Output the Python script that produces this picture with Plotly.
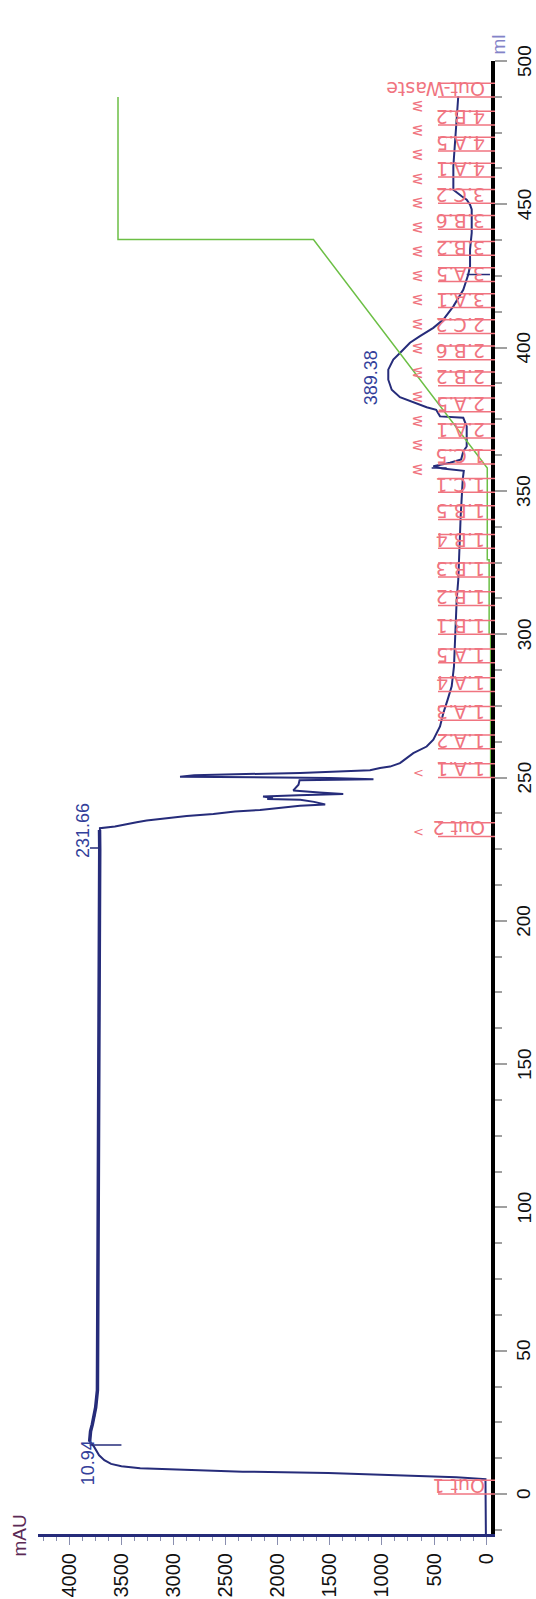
import plotly.graph_objects as go

# ---------------- data ----------------
# UV absorbance curve: volume (ml) and absorbance (mAU)
uv_ml = [-14.0, 5.2, 5.8, 6.4, 7.3, 7.8, 8.5, 9.0, 9.7, 10.5, 11.8, 13.5, 16.5, 18.3,
         21.9, 24.3, 26.7, 30.2, 36.2, 50, 100, 150, 200, 225, 231.66, 232.3, 232.9,
         233.7, 234.4, 235.0, 235.8, 236.6, 237.3, 238.1, 238.7, 239.5, 240.1, 240.6,
         241.5, 242.2, 242.5, 242.8, 243.4, 243.8, 244.2, 244.8, 245.5, 247.5, 249.0,
         249.4, 249.8, 250.3, 250.8, 251.6, 252.1, 252.5, 253.3, 253.8, 255.0, 258.5,
         260.8, 263.2, 267.8, 272.5, 277.0, 281.8, 288.8, 300.4, 312.0, 319.0, 329.5,
         341.0, 354.0, 357.0, 357.8, 358.6, 359.8, 361.0, 363.8, 365.5, 372.5, 375.5,
         376.0, 378.3, 379.2, 381.0, 382.7, 385.3, 388.8, 392.3, 395.8, 398.1, 401.7,
         404.0, 406.9, 409.8, 414.4, 420.2, 423.7, 425.5, 428.4, 434.2, 440.0, 448.2,
         449.9, 451.6, 452.8, 455.1, 463.3, 472.6, 480.7, 487.7]
uv_mau = [3, 7, 286, 876, 1515, 2335, 2941, 3318, 3498, 3597, 3662, 3712, 3761, 3803,
          3794, 3777, 3761, 3745, 3728, 3727, 3722, 3716, 3709, 3706, 3708, 3704, 3560,
          3464, 3352, 3256, 3080, 2872, 2617, 2409, 2169, 1946, 1786, 1544,
          1650, 1783, 2100, 2045, 2140, 1800, 1371, 1600, 1850, 1800, 1790,
          1081, 1500, 2936, 2800, 1783, 1304, 1114, 1018, 922, 827, 699,
          571, 507, 443, 411, 371, 331, 309, 299, 283, 268, 258,
          245, 225, 215, 420, 507, 347, 240, 220, 187, 187, 220,
          443, 480, 571, 699, 827, 906, 939, 939, 891, 827, 731,
          635, 507, 411, 315, 220, 187, 172, 155, 155, 139, 139,
          155, 187, 235, 315, 315, 299, 283, 268]

# Concentration of buffer B (%)
conc_ml = [250, 300, 300, 326, 326, 358, 437.7, 437.7, 487.4]
conc_pctB = [0.1, 0.1, 0.5, 0.5, 1.0, 1.0, 47.6, 100, 100]

# Peak labels
peak_ml = [10.94, 231.66, 389.38]
peak_mau = [3620, 3704, 939]
peak_text = ["10.94", "231.66", "389.38"]
peak_shift = [-21, -17, -17]

# Peak start / end marks
mark_ml = [17.1, 225.4, 358.0, 425.5]
mark_mau_a = [3803, 3800, 523, 187]
mark_mau_b = [3498, 3704, 379, -36]

# Fractions: start volume (ml) and label
frac_ml = [0, 229.4, 250, 260, 270, 280, 290, 300, 310, 320, 330, 340, 349.5,
           359.4, 368.5, 377.6, 386.7, 395.8, 404.9, 414.0, 423.1, 432.2, 441.3,
           450.4, 459.5, 468.6, 477.7, 487.4]
frac_text = ["Out 1", "Out 2", "1.A.1", "1.A.2", "1.A.3", "1.A.4", "1.A.5", "1.B.1",
             "1.B.2", "1.B.3", "1.B.4", "1.B.5", "1.C.1",
             "1.C.5", "2.A.1", "2.A.5", "2.B.2", "2.B.6", "2.C.2", "3.A.1", "3.A.5",
             "3.B.2", "3.B.6", "3.C.2", "4.A.1", "4.A.5", "4.B.2", "Out-Waste"]

# Event marks
event_ml = [229.4, 250]
multi_event_ml = [357.5, 366.0, 374.4, 382.9, 391.3, 399.8, 408.2, 416.7, 425.1,
                  433.6, 442.0, 450.5, 458.9, 467.4, 475.8, 484.3]

mau_ticks = list(range(0, 4001, 500))
ml_ticks = list(range(0, 501, 50))

# ---------------- styling ----------------
W, H = 536, 1599
ML, MR, MT, MB = 38, 45, 61, 65
PW = W - ML - MR
UV_COLOR = "#262c7a"
LABEL_BLUE = "#33409a"
PINK = "#f07480"
GREEN = "#6cbf45"
PCT_PX = 3.73  # px per % B

def px_to_paper_x(px):
    return (px - ML) / PW

fig = go.Figure()

fig.add_trace(go.Scatter(x=uv_mau, y=uv_ml, mode="lines",
                         line=dict(color=UV_COLOR, width=2), hoverinfo="skip"))
# noisy plateau drawn thicker
i0, i1 = uv_ml.index(18.3), uv_ml.index(231.66)
fig.add_trace(go.Scatter(x=uv_mau[i0:i1 + 1], y=uv_ml[i0:i1 + 1], mode="lines",
                         line=dict(color=UV_COLOR, width=3.5), hoverinfo="skip"))

mx, my = [], []
for m, a, b in zip(mark_ml, mark_mau_a, mark_mau_b):
    mx += [a, b, None]
    my += [m, m, None]
fig.add_trace(go.Scatter(x=mx, y=my, mode="lines",
                         line=dict(color=UV_COLOR, width=1.5), hoverinfo="skip"))

fig.add_trace(go.Scatter(x=conc_pctB, y=conc_ml, mode="lines", xaxis="x2",
                         line=dict(color=GREEN, width=1.5), hoverinfo="skip"))

shapes = []
annotations = []
x0p, x1p = px_to_paper_x(438), px_to_paper_x(495)
UNDER = 4.8  # ml height of a fraction label box
for f, t in zip(frac_ml, frac_text):
    shapes.append(dict(type="line", xref="paper", yref="y", x0=x0p, x1=x1p, y0=f, y1=f,
                       line=dict(color=PINK, width=1.5)))
    shapes.append(dict(type="line", xref="paper", yref="y", x0=x0p, x1=x1p,
                       y0=f + UNDER, y1=f + UNDER, line=dict(color=PINK, width=1.5)))
    annotations.append(dict(x=px_to_paper_x(487), xref="paper", y=f, yref="y",
                            text=t, showarrow=False, textangle=180,
                            xanchor="right", yanchor="bottom", yshift=-5,
                            font=dict(family="DejaVu Sans", size=19, color=PINK)))

for e in event_ml:
    annotations.append(dict(x=px_to_paper_x(418), xref="paper", y=e, yref="y",
                            text="<", showarrow=False, xanchor="center",
                            yanchor="bottom", yshift=-4,
                            font=dict(family="DejaVu Sans", size=13, color=PINK)))
for e in multi_event_ml:
    annotations.append(dict(x=px_to_paper_x(418), xref="paper", y=e, yref="y",
                            text="w", showarrow=False, textangle=90,
                            xanchor="center", yanchor="middle",
                            font=dict(family="DejaVu Sans", size=15, color=PINK)))

for pm, pa, pt, sh in zip(peak_ml, peak_mau, peak_text, peak_shift):
    annotations.append(dict(x=pa, y=pm, xref="x", yref="y", text=pt, showarrow=False,
                            textangle=-90, xanchor="center", yanchor="middle",
                            xshift=sh,
                            font=dict(family="Liberation Sans", size=18,
                                      color=LABEL_BLUE)))

# volume tick labels (drawn as rotated text right of the axis)
for v in ml_ticks:
    annotations.append(dict(x=px_to_paper_x(524), xref="paper", y=v, yref="y",
                            text=str(v), showarrow=False, textangle=-90,
                            xanchor="center", yanchor="middle",
                            font=dict(family="Liberation Sans", size=19, color="#111")))

annotations.append(dict(x=px_to_paper_x(19), xref="paper", y=-0.001, yref="paper",
                        text="mAU", showarrow=False, textangle=-90,
                        xanchor="center", yanchor="middle",
                        font=dict(family="Liberation Sans", size=19, color="#5b2a55")))
annotations.append(dict(x=px_to_paper_x(498), xref="paper", y=1.0 + 16.5 / (H - MT - MB),
                        yref="paper", text="ml", showarrow=False, textangle=-90,
                        xanchor="center", yanchor="middle",
                        font=dict(family="Liberation Sans", size=19, color="#8383c8")))

fig.update_layout(
    width=W, height=H,
    margin=dict(l=ML, r=MR, t=MT, b=MB, pad=0, autoexpand=False),
    paper_bgcolor="white", plot_bgcolor="white",
    showlegend=False,
    shapes=shapes, annotations=annotations,
    xaxis=dict(range=[4298, -46], tickvals=mau_ticks, ticktext=[str(v) for v in mau_ticks],
               ticks="outside", ticklen=8, tickwidth=1, tickcolor="#8a8fb0",
               showline=True, linecolor=UV_COLOR, linewidth=3, automargin=False,
               tickangle=-90, showgrid=False, zeroline=False,
               tickfont=dict(family="Liberation Sans", size=20, color="#111"),
               minor=dict(dtick=125, tick0=0, ticks="outside", ticklen=4,
                          tickcolor="#8a8fb0", showgrid=False)),
    xaxis2=dict(range=[(491 - ML) / PCT_PX, 0], overlaying="x", visible=False,
                showgrid=False, zeroline=False, automargin=False),
    yaxis=dict(range=[-13.96, 500], side="right", tickvals=ml_ticks,
               showticklabels=False, automargin=False,
               ticks="outside", ticklen=12, tickwidth=1.5, tickcolor="#a0a0a0",
               showline=True, linecolor="black", linewidth=4,
               showgrid=False, zeroline=False,
               minor=dict(dtick=12.5, tick0=0, ticks="outside", ticklen=7,
                          tickcolor="#a0a0a0", showgrid=False)),
)

fig.write_html("out.html")
